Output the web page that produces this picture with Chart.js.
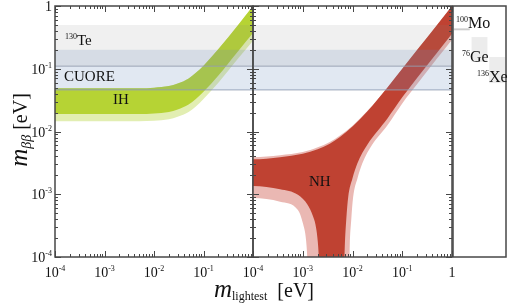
<!DOCTYPE html>
<html>
<head>
<meta charset="utf-8">
<script src="https://cdn.jsdelivr.net/npm/chart.js@4.4.0/dist/chart.umd.min.js"></script>
<style>
  html, body { margin: 0; padding: 0; background: #fff; }
  #wrap { position: relative; width: 510px; height: 304px; }
  #wrap canvas { position: absolute; left: 0; top: 0; }
</style>
</head>
<body>
<div id="wrap">
  <canvas id="left" width="510" height="304"></canvas>
  <canvas id="right" width="510" height="304"></canvas>
  <canvas id="strip" width="510" height="304"></canvas>
</div>
<script>
// experimental limits [low, high] in eV (horizontal bands)
const teBand = [0.11, 0.5];
const cuoreBand = [0.046, 0.2];

// inverted hierarchy, m_lightest in eV and band edges
const ihM    = [5e-5, 1e-4, 1e-3, 5e-3, 0.01, 0.02, 0.03, 0.05, 0.07, 0.1, 0.2, 0.5, 1, 2];
const ihTop  = [0.049, 0.049, 0.049, 0.049, 0.05, 0.053, 0.058, 0.07, 0.086, 0.112, 0.206, 0.5, 1.0, 2.0];
const ihLow1 = [0.019, 0.019, 0.019, 0.019, 0.0194, 0.0205, 0.0225, 0.027, 0.033, 0.043, 0.078, 0.19, 0.37, 0.74];
const ihLow3 = [0.0145, 0.0145, 0.0145, 0.0146, 0.0148, 0.0157, 0.0172, 0.0205, 0.025, 0.033, 0.06, 0.145, 0.28, 0.56];

// normal hierarchy
const nhTopM  = [5e-5, 1e-4, 3.5e-4, 1e-3, 2e-3, 3.5e-3, 5.6e-3, 0.01, 0.02, 0.05, 0.1, 0.2, 0.5, 1, 2];
const nhTop1  = [0.0036, 0.0036, 0.0039, 0.0044, 0.0052, 0.0064, 0.0082, 0.012, 0.021, 0.05, 0.1, 0.2, 0.5, 1.0, 2.0];
const nhTop3  = [0.0039, 0.0039, 0.0042, 0.0047, 0.0056, 0.0068, 0.0086, 0.0124, 0.0214, 0.05, 0.1, 0.2, 0.5, 1.0, 2.0];
const nhLow1M = [5e-5, 1e-4, 3.5e-4, 8e-4, 1.25e-3, 1.6e-3, 1.8e-3, 2.0e-3, 2.1e-3, 2.2e-3,
                 6.6e-3, 7.0e-3, 7.5e-3, 8.2e-3, 0.01, 0.0125, 0.02, 0.05, 0.1, 0.2, 0.5, 1, 2];
const nhLow1  = [0.00135, 0.00135, 0.0012, 0.00098, 0.00068, 0.00045, 0.00033, 0.00018, 0.0001, 0.00003,
                 0.00003, 0.00015, 0.0004, 0.0009, 0.0018, 0.0031, 0.0062, 0.016, 0.035, 0.072, 0.18, 0.36, 0.72];
const nhLow3M = [5e-5, 1e-4, 3.5e-4, 8e-4, 1.0e-3, 1.17e-3, 1.23e-3, 1.3e-3,
                 8.4e-3, 8.8e-3, 9.45e-3, 0.0103, 0.0126, 0.0157, 0.025, 0.05, 0.1, 0.2, 0.5, 1, 2];
const nhLow3  = [0.00087, 0.00087, 0.00076, 0.00056, 0.00035, 0.00018, 0.0001, 0.00003,
                 0.00003, 0.00015, 0.0004, 0.0009, 0.0018, 0.0031, 0.0062, 0.0125, 0.028, 0.057, 0.145, 0.29, 0.58];

// isotope limits in the side strip
const isotopes = ['Mo', 'Ge', 'Xe'];
const isoLimits = [[0.41, 0.44], [0.128, 0.32], [0.059, 0.154]];

const SERIF = '"Liberation Serif", "DejaVu Serif", serif';
const AXIS = '#474747';

const pts = (xs, ys) => xs.map((x, i) => ({ x: x, y: ys[i] }));

function band(xsTop, top, xsLow, low, color, order, lineColor) {
  return [
    { data: pts(xsTop, top), showLine: true, fill: '+1', backgroundColor: color,
      borderColor: 'rgba(0,0,0,0)', borderWidth: 0, pointRadius: 0, order: order,
      cubicInterpolationMode: 'monotone' },
    { data: pts(xsLow, low), showLine: true, fill: false,
      borderColor: lineColor || 'rgba(0,0,0,0)', borderWidth: lineColor ? 1 : 0,
      pointRadius: 0, order: order, cubicInterpolationMode: 'monotone' }
  ];
}

// the two horizontal bands, wider than the axes so they run edge to edge
function limitBands() {
  const xs = [1e-5, 10];
  return [
    ...band(xs, [teBand[1], teBand[1]], xs, [teBand[0], teBand[0]], 'rgba(128,128,128,0.12)', 0, 'rgba(150,160,178,0.9)'),
    ...band(xs, [cuoreBand[1], cuoreBand[1]], xs, [cuoreBand[0], cuoreBand[0]], 'rgba(105,140,190,0.2)', 0, 'rgba(150,160,178,0.9)')
  ];
}

// text with raised/lowered pieces: items = [text, size, raise, italic]
function runs(ctx, x, y, items, align) {
  let w = 0;
  items.forEach(it => {
    ctx.font = (it[3] ? 'italic ' : '') + it[1] + 'px ' + SERIF;
    w += ctx.measureText(it[0]).width;
  });
  let cx = align === 'center' ? x - w / 2 : align === 'right' ? x - w : x;
  items.forEach(it => {
    ctx.font = (it[3] ? 'italic ' : '') + it[1] + 'px ' + SERIF;
    ctx.fillText(it[0], cx, y - it[2]);
    cx += ctx.measureText(it[0]).width;
  });
}

function powLabel(e) {
  return e === 0 ? [['1', 14, 0]] : [['10', 14, 0], ['-' + (-e), 8, 6]];
}

// frame, inward ticks and tick labels of one panel
function decorate(chart, cfg) {
  const { ctx, chartArea: a, scales } = chart;
  const xs = scales.x, ys = scales.y;
  ctx.save();
  ctx.strokeStyle = AXIS;
  ctx.lineWidth = 1;
  ctx.beginPath();
  for (let e = -4; e <= 0; e++) {
    for (let k = 1; k <= 9; k++) {
      const v = k * Math.pow(10, e);
      if (v > 1.0001) break;
      const len = k === 1 ? 6 : 3;
      if (cfg.xticks) {
        const px = Math.round(xs.getPixelForValue(v)) + 0.5;
        ctx.moveTo(px, a.bottom); ctx.lineTo(px, a.bottom - len);
        ctx.moveTo(px, a.top); ctx.lineTo(px, a.top + len);
      }
      const py = Math.round(ys.getPixelForValue(v)) + 0.5;
      if (cfg.leftTicks) { ctx.moveTo(a.left, py); ctx.lineTo(a.left + len, py); }
      if (cfg.rightTicks) { ctx.moveTo(a.right, py); ctx.lineTo(a.right - len, py); }
    }
  }
  ctx.stroke();
  ctx.lineWidth = 1.5;
  ctx.strokeRect(a.left, a.top, a.right - a.left, a.bottom - a.top);

  ctx.fillStyle = '#111';
  ctx.textBaseline = 'alphabetic';
  if (cfg.xLabels) {
    cfg.xLabels.forEach(e => {
      runs(ctx, xs.getPixelForValue(Math.pow(10, e)), 277, powLabel(e), 'center');
    });
  }
  if (cfg.yLabels) {
    for (let e = -4; e <= 0; e++) {
      runs(ctx, a.left - 3, ys.getPixelForValue(Math.pow(10, e)) + 5, powLabel(e), 'right');
    }
  }
  if (cfg.texts) cfg.texts(ctx, xs, ys);
  ctx.restore();
}

function panelOptions(padLeft, padRight) {
  return {
    responsive: false,
    animation: false,
    devicePixelRatio: 1,
    layout: { padding: { left: padLeft, right: padRight, top: 6, bottom: 47 } },
    plugins: { legend: { display: false }, tooltip: { enabled: false } },
    scales: {
      x: { type: 'logarithmic', min: 1e-4, max: 1, display: false },
      y: { type: 'logarithmic', min: 1e-4, max: 1, display: false }
    }
  };
}

const leftChart = new Chart(document.getElementById('left'), {
  type: 'scatter',
  data: {
    datasets: [
      ...limitBands(),
      ...band(ihM, ihTop, ihM, ihLow1, 'rgb(182,211,52)', 1),
      ...band(ihM, ihTop, ihM, ihLow3, 'rgb(226,238,178)', 2)
    ]
  },
  options: panelOptions(55, 257),
  plugins: [{
    id: 'leftDeco',
    afterDraw: chart => decorate(chart, {
      xticks: true, leftTicks: true, rightTicks: true,
      xLabels: [-4, -3, -2, -1], yLabels: true,
      texts: (ctx) => {
        runs(ctx, 65, 45, [['130', 8, 6], ['Te', 15, 0]], 'left');
        runs(ctx, 64, 81, [['CUORE', 15, 0]], 'left');
        runs(ctx, 113, 104, [['IH', 15, 0]], 'left');
        // axis titles
        runs(ctx, 264, 297, [['m', 25, 0, true], ['lightest', 12, -3], ['  [eV]', 20, 0]], 'center');
        ctx.save();
        ctx.translate(27, 130);
        ctx.rotate(-Math.PI / 2);
        runs(ctx, 0, 0, [['m', 25, 0, true], ['\u03b2\u03b2', 14, -4, true], [' [eV]', 20, 0]], 'center');
        ctx.restore();
      }
    })
  }]
});

const rightChart = new Chart(document.getElementById('right'), {
  type: 'scatter',
  data: {
    datasets: [
      ...limitBands(),
      ...band(nhTopM, nhTop1, nhLow1M, nhLow1, 'rgb(191,66,50)', 1),
      ...band(nhTopM, nhTop3, nhLow3M, nhLow3, 'rgb(234,184,179)', 2)
    ]
  },
  options: panelOptions(253, 58),
  plugins: [{
    id: 'rightDeco',
    afterDraw: chart => decorate(chart, {
      xticks: true, leftTicks: true, rightTicks: true,
      xLabels: [-4, -3, -2, -1, 0],
      texts: (ctx) => {
        runs(ctx, 309, 186, [['NH', 15, 0]], 'left');
      }
    })
  }]
});

const stripChart = new Chart(document.getElementById('strip'), {
  type: 'bar',
  data: {
    labels: isotopes,
    datasets: [{
      data: isoLimits,
      backgroundColor: ['rgb(205,205,205)', 'rgb(236,236,236)', 'rgb(236,236,236)'],
      borderWidth: 0,
      barPercentage: 0.9,
      categoryPercentage: 1
    }]
  },
  options: {
    responsive: false,
    animation: false,
    devicePixelRatio: 1,
    layout: { padding: { left: 453, right: 4, top: 6, bottom: 47 } },
    plugins: { legend: { display: false }, tooltip: { enabled: false } },
    scales: {
      x: { display: false },
      y: { type: 'logarithmic', min: 1e-4, max: 1, display: false }
    }
  },
  plugins: [{
    id: 'stripDeco',
    afterDraw: chart => {
      const { ctx, chartArea: a } = chart;
      ctx.save();
      ctx.strokeStyle = AXIS;
      ctx.lineWidth = 1.5;
      ctx.strokeRect(a.left, a.top, a.right - a.left, a.bottom - a.top);
      ctx.fillStyle = '#111';
      runs(ctx, 456, 28, [['100', 8, 6], ['Mo', 16, 0]], 'left');
      runs(ctx, 462, 62, [['76', 8, 6], ['Ge', 16, 0]], 'left');
      runs(ctx, 477, 82, [['136', 8, 6], ['Xe', 16, 0]], 'left');
      ctx.restore();
    }
  }]
});
</script>
</body>
</html>
